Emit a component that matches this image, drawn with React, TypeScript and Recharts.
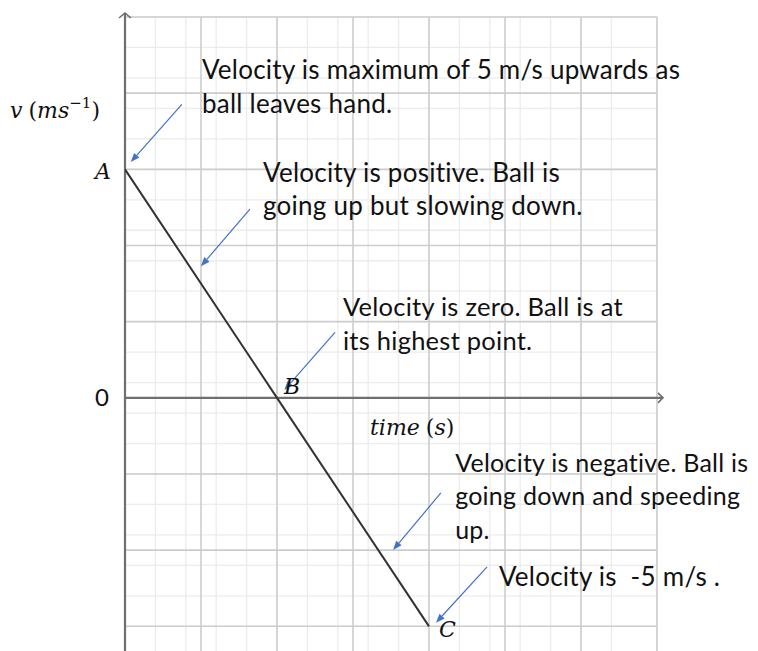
import React from 'react';
import {
  LineChart,
  Line,
  XAxis,
  YAxis,
  CartesianGrid,
  ReferenceLine,
  ReferenceDot,
  LabelList,
} from 'recharts';

// Velocity–time graph of a ball thrown straight up at 5 m/s (g ≈ 10 m/s²)
const times = [0, 0.5, 1.0];
const velocities = [5, 0, -5];
const pointNames = ['A', 'B', 'C'];

const yTickValues = [0];

// axis extents (s, m/s)
const T_MAX = 1.75;
const V_MAX = 25 / 3;
const V_MIN = -5.54;

// grid spacing: major squares of 0.25 s × 5/3 m/s, five minor squares each
const T_MAJOR = 0.25;
const V_MAJOR = 5 / 3;
const SUBDIV = 5;

// annotation texts (one entry per line)
const noteLines = [
  ['Velocity is maximum of 5 m/s upwards as', 'ball leaves hand.'],
  ['Velocity is positive. Ball is', 'going up but slowing down.'],
  ['Velocity is zero. Ball is at', 'its highest point.'],
  ['Velocity is negative. Ball is', 'going down and speeding', 'up.'],
  ['Velocity is  -5 m/s .'],
];
// where each note's first line starts (t, v)
const noteAnchorT = [0.253, 0.454, 0.717, 1.086, 1.23];
const noteAnchorV = [6.97, 4.73, 1.79, -1.62, -4.11];
const noteFontSize = [26, 26, 25.5, 25, 26];

// pointer arrows from each note to the graph (tail → head)
const arrowTailT = [0.187, 0.411, 0.691, 1.039, 1.191];
const arrowTailV = [6.42, 4.13, 1.43, -2.08, -3.7];
const arrowHeadT = [0.019, 0.25, 0.524, 0.882, 1.023];
const arrowHeadV = [5.16, 2.88, 0.17, -3.33, -4.92];

const data = times.map((t, i) => ({ t, v: velocities[i], name: pointNames[i] }));

const range = (lo: number, hi: number, step: number) => {
  const out: number[] = [];
  const start = Math.ceil(lo / step - 1e-9);
  const end = Math.floor(hi / step + 1e-9);
  for (let k = start; k <= end; k++) out.push(+(k * step).toFixed(6));
  return out;
};

const tMinor = range(0, T_MAX, T_MAJOR / SUBDIV);
const tMajor = range(0, T_MAX, T_MAJOR);
const vMinor = range(V_MIN, V_MAX, V_MAJOR / SUBDIV);
const vMajor = range(V_MIN, V_MAX, V_MAJOR);

const TEXT_FONT = 'Lato, "Noto Sans", sans-serif';
const MATH_FONT = '"DejaVu Serif", "Liberation Serif", serif';
const AXIS_COLOR = '#6f6f6f';
const NOTE_ARROW = '#4472C4';

const pointLabelStyle: Record<string, { dx: number; dy: number; anchor: 'start' | 'end' }> = {
  A: { dx: -14, dy: 10, anchor: 'end' },
  B: { dx: 7, dy: -4, anchor: 'start' },
  C: { dx: 10, dy: 11, anchor: 'start' },
};

const VerticalAxisArrow = (props: any) => {
  const { x1, y1, y2 } = props;
  const top = Math.min(y1, y2) - 4;
  const bottom = Math.max(y1, y2);
  return (
    <g>
      <line x1={x1} y1={bottom} x2={x1} y2={top} stroke={AXIS_COLOR} strokeWidth={2.2} />
      <polyline
        points={`${x1 - 6},${top + 5} ${x1},${top} ${x1 + 6},${top + 5}`}
        fill="none"
        stroke={AXIS_COLOR}
        strokeWidth={1.6}
      />
    </g>
  );
};

const HorizontalAxisArrow = (props: any) => {
  const { x1, x2, y1 } = props;
  const left = Math.min(x1, x2);
  const right = Math.max(x1, x2) + 6;
  return (
    <g>
      <line x1={left} y1={y1} x2={right} y2={y1} stroke={AXIS_COLOR} strokeWidth={2.2} />
      <polyline
        points={`${right - 5},${y1 - 5} ${right},${y1} ${right - 5},${y1 + 5}`}
        fill="none"
        stroke={AXIS_COLOR}
        strokeWidth={1.6}
      />
    </g>
  );
};

const PointerArrow = (props: any) => {
  const { x1, y1, x2, y2 } = props;
  const dx = x2 - x1;
  const dy = y2 - y1;
  const len = Math.hypot(dx, dy) || 1;
  const ux = dx / len;
  const uy = dy / len;
  const headLen = 9;
  const headHalf = 3.5;
  const bx = x2 - ux * headLen;
  const by = y2 - uy * headLen;
  const p1 = `${bx - uy * headHalf},${by + ux * headHalf}`;
  const p2 = `${bx + uy * headHalf},${by - ux * headHalf}`;
  return (
    <g>
      <line x1={x1} y1={y1} x2={bx} y2={by} stroke={NOTE_ARROW} strokeWidth={1.2} />
      <polygon points={`${x2},${y2} ${p1} ${p2}`} fill={NOTE_ARROW} />
    </g>
  );
};

const makeNote = (lines: string[], size: number) => (props: any) => {
  const { cx, cy } = props;
  return (
    <text
      x={cx}
      y={cy}
      fontFamily={TEXT_FONT}
      fontSize={size}
      letterSpacing={0.25}
      fill="#111"
    >
      {lines.map((line, i) => (
        <tspan key={i} x={cx} dy={i === 0 ? 0 : 33.5} style={{ whiteSpace: 'pre' }}>
          {line}
        </tspan>
      ))}
    </text>
  );
};

const VelocityAxisTitle = (props: any) => {
  const { cx, cy } = props;
  return (
    <text x={cx} y={cy} fontFamily={MATH_FONT} fontSize={22} fill="#111">
      <tspan fontStyle="italic">v</tspan>
      <tspan dx={6}>(</tspan>
      <tspan fontStyle="italic">ms</tspan>
      <tspan fontSize={15} dy={-10}>−1</tspan>
      <tspan dy={10}>)</tspan>
    </text>
  );
};

const TimeAxisTitle = (props: any) => {
  const { cx, cy } = props;
  return (
    <text x={cx} y={cy} fontFamily={MATH_FONT} fontSize={22} fill="#111">
      <tspan fontStyle="italic">time</tspan>
      <tspan dx={6}>(</tspan>
      <tspan fontStyle="italic">s</tspan>
      <tspan>)</tspan>
    </text>
  );
};

const PointLabel = (props: any) => {
  const { x, y, value } = props;
  const s = pointLabelStyle[value as string];
  if (!s) return null;
  return (
    <text
      x={x + s.dx}
      y={y + s.dy}
      textAnchor={s.anchor}
      fontFamily={MATH_FONT}
      fontStyle="italic"
      fontSize={22}
      fill="#111"
    >
      {value}
    </text>
  );
};

export default function App() {
  return (
    <div style={{ width: 750, height: 643 }}>
      <LineChart
        width={750}
        height={643}
        data={data}
        margin={{ top: 9, right: 101, bottom: 0, left: 0 }}
      >
        <CartesianGrid
          stroke="#ececec"
          strokeWidth={1.3}
          verticalValues={tMinor}
          horizontalValues={vMinor}
        />
        <CartesianGrid
          stroke="#cdcdcd"
          strokeWidth={1.6}
          verticalValues={tMajor}
          horizontalValues={vMajor}
        />
        <XAxis
          type="number"
          dataKey="t"
          domain={[0, T_MAX]}
          allowDataOverflow
          hide
        />
        <YAxis
          type="number"
          domain={[V_MIN, V_MAX]}
          allowDataOverflow
          ticks={yTickValues}
          width={117}
          axisLine={false}
          tickLine={false}
          tickSize={0}
          tickMargin={16}
          tick={{ fontFamily: TEXT_FONT, fontSize: 24, fill: '#111' }}
        />
        <ReferenceLine x={0} shape={VerticalAxisArrow} ifOverflow="visible" />
        <ReferenceLine y={0} shape={HorizontalAxisArrow} ifOverflow="visible" />
        <Line
          type="linear"
          dataKey="v"
          stroke="#333333"
          strokeWidth={2}
          dot={false}
          isAnimationActive={false}
        >
          <LabelList dataKey="name" content={PointLabel} />
        </Line>
        {arrowTailT.map((t, i) => (
          <ReferenceLine
            key={`arrow-${i}`}
            segment={[
              { x: t, y: arrowTailV[i] },
              { x: arrowHeadT[i], y: arrowHeadV[i] },
            ]}
            shape={PointerArrow}
            ifOverflow="visible"
          />
        ))}
        {noteLines.map((lines, i) => (
          <ReferenceDot
            key={`note-${i}`}
            x={noteAnchorT[i]}
            y={noteAnchorV[i]}
            r={0}
            shape={makeNote(lines, noteFontSize[i])}
            ifOverflow="visible"
          />
        ))}
        <ReferenceDot x={-0.378} y={6.12} r={0} shape={VelocityAxisTitle} ifOverflow="visible" />
        <ReferenceDot x={0.806} y={-0.82} r={0} shape={TimeAxisTitle} ifOverflow="visible" />
      </LineChart>
    </div>
  );
}
